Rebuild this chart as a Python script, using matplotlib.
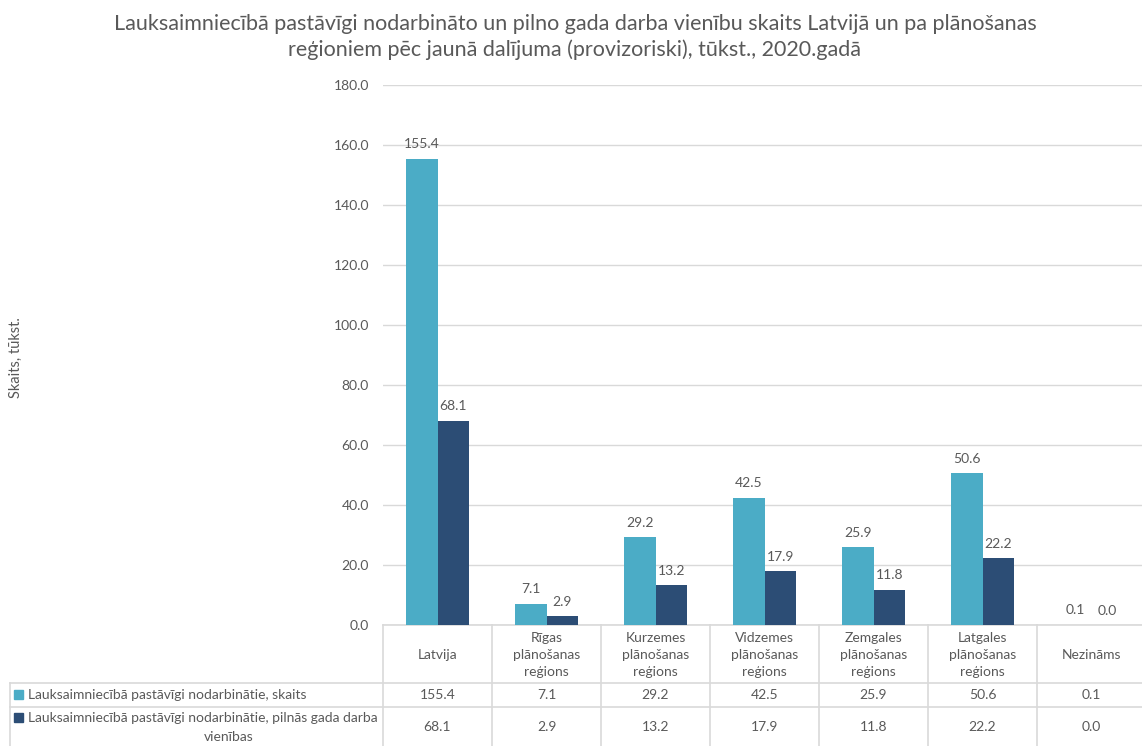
import matplotlib
matplotlib.use("Agg")
import matplotlib.pyplot as plt
import numpy as np

plt.rcParams['font.family'] = ['Lato', 'DejaVu Sans']

title = ("Lauksaimniecībā pastāvīgi nodarbināto un pilno gada darba vienību skaits Latvijā un pa plānošanas\n"
         "reģioniem pēc jaunā dalījuma (provizoriski), tūkst., 2020.gadā")
categories = ["Latvija", "Rīgas\nplānošanas\nreģions", "Kurzemes\nplānošanas\nreģions",
              "Vidzemes\nplānošanas\nreģions", "Zemgales\nplānošanas\nreģions",
              "Latgales\nplānošanas\nreģions", "Nezināms"]
series_names = ["Lauksaimniecībā pastāvīgi nodarbinātie, skaits",
                "Lauksaimniecībā pastāvīgi nodarbinātie, pilnās gada darba\nvienības"]
skaits = [155.4, 7.1, 29.2, 42.5, 25.9, 50.6, 0.1]
pgdv = [68.1, 2.9, 13.2, 17.9, 11.8, 22.2, 0.0]
ylabel = "Skaits, tūkst."
yticks = [0, 20, 40, 60, 80, 100, 120, 140, 160, 180]

colors = ["#4BACC6", "#2C4D75"]
txt = "#595959"
grid = "#D9D9D9"

W, H = 1142, 746
fig = plt.figure(figsize=(W / 100, H / 100), dpi=100)

# pixel geometry
px_left, px_right = 383, 1146
px_top, px_bot = 85, 625
ax = fig.add_axes([px_left / W, 1 - px_bot / H, (px_right - px_left) / W, (px_bot - px_top) / H])

n = len(categories)
x = np.arange(n)
bw = 0.29
ax.bar(x - bw / 2, skaits, bw, color=colors[0], zorder=3)
ax.bar(x + bw / 2, pgdv, bw, color=colors[1], zorder=3)
for xi, v in zip(x - bw / 2, skaits):
    ax.annotate(f"{v:.1f}", (xi, v), xytext=(0, 6), textcoords="offset points",
                ha="center", va="bottom", fontsize=10, color=txt)
for xi, v in zip(x + bw / 2, pgdv):
    ax.annotate(f"{v:.1f}", (xi, v), xytext=(0, 6), textcoords="offset points",
                ha="center", va="bottom", fontsize=10, color=txt)

ax.set_xlim(-0.5, n - 0.5)
ax.set_ylim(0, 180)
ax.set_yticks(yticks)
ax.set_yticklabels([f"{t:.1f}" for t in yticks], fontsize=10, color=txt)
ax.tick_params(axis="y", length=0, pad=10)
ax.set_xticks([])
ax.yaxis.grid(True, color=grid, linewidth=1, zorder=0)
for s in ax.spines.values():
    s.set_visible(False)
ax.set_facecolor("none")

# overlay axes in pixel coordinates for title, ylabel and data table
ov = fig.add_axes([0, 0, 1, 1], zorder=-1)
ov.set_xlim(0, W)
ov.set_ylim(H, 0)
ov.axis("off")

ov.text(575, 37, title, ha="center", va="center", fontsize=15.5, color=txt, linespacing=1.35)
ov.text(16, 358, ylabel, rotation=90, ha="center", va="center", fontsize=10.5, color=txt)

cw = (px_right - px_left) / n
lc = "#D9D9D9"
row_top, row1, row2, row_end = 625, 683, 707, 746
tleft = 10
ov.plot([px_left, px_right], [row_top, row_top], color=lc, lw=1.2)
ov.plot([tleft, px_right], [row1, row1], color=lc, lw=1.2)
ov.plot([tleft, px_right], [row2, row2], color=lc, lw=1.2)
ov.plot([tleft, tleft], [row1, row_end], color=lc, lw=1.2)
for i in range(n + 1):
    xx = px_left + i * cw
    ov.plot([xx, xx], [row_top, row_end], color=lc, lw=1.2)

for i, c in enumerate(categories):
    cx = px_left + (i + 0.5) * cw
    ov.text(cx, 655, c, ha="center", va="center", fontsize=10, color=txt, linespacing=1.55)
    ov.text(cx, 695, f"{skaits[i]:.1f}", ha="center", va="center", fontsize=10, color=txt)
    ov.text(cx, 727, f"{pgdv[i]:.1f}", ha="center", va="center", fontsize=10, color=txt)

# legend keys in table
ov.add_patch(plt.Rectangle((14, 690), 9, 9, color=colors[0]))
ov.text(28, 695, series_names[0], ha="left", va="center", fontsize=10, color=txt)
ov.add_patch(plt.Rectangle((14, 713), 9, 9, color=colors[1]))
l1, l2 = series_names[1].split("\n")
ov.text(28, 718, l1, ha="left", va="center", fontsize=10, color=txt)
ov.text(229, 737, l2, ha="center", va="center", fontsize=10, color=txt)

fig.savefig("out.png", dpi=100)
